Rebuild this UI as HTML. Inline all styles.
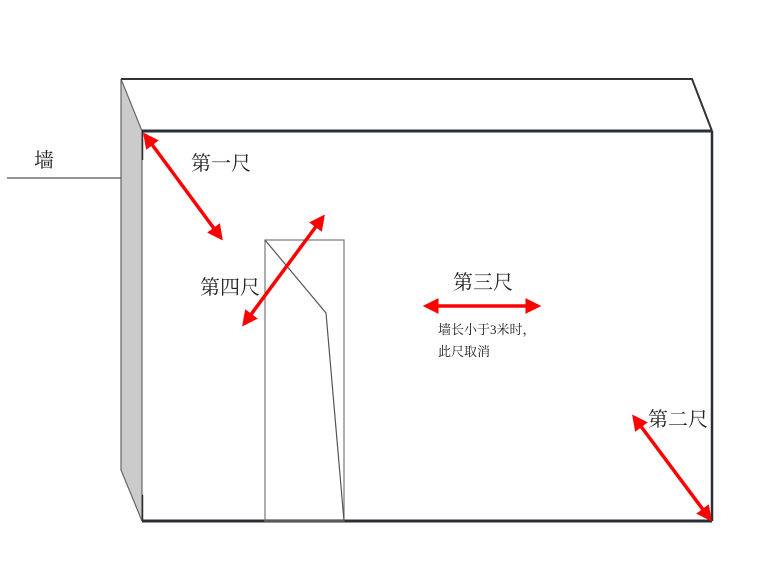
<!DOCTYPE html>
<html><head><meta charset="utf-8"><style>
body{margin:0;background:#fff}
svg text{font-family:"Liberation Serif","Noto Serif CJK SC",serif;fill:#222}
</style></head><body>
<svg width="760" height="570" viewBox="0 0 760 570" xmlns="http://www.w3.org/2000/svg">
<defs>
<marker id="a" viewBox="0 0 10 10" refX="8" refY="5" markerWidth="4.5" markerHeight="4.5" orient="auto-start-reverse">
<path d="M0,0 L10,5 L0,10 Z" fill="#f00"/></marker>
</defs>
<line x1="7" y1="178" x2="121" y2="178" stroke="#555" stroke-width="1.2"/>
<text x="34" y="167" font-size="20">墙</text>
<polygon points="121,79 142,131 142,521 121,470" fill="#cbcbcb" stroke="#666" stroke-width="1.2"/>
<polyline points="121,79 692,79 712,131" fill="none" stroke="#333" stroke-width="2"/>
<line x1="142" y1="131" x2="712" y2="131" stroke="#2a2f36" stroke-width="3"/>
<line x1="712" y1="131" x2="712" y2="521" stroke="#2a2f36" stroke-width="2.5"/>
<line x1="142" y1="521" x2="712" y2="521" stroke="#2a2f36" stroke-width="3"/>
<line x1="142.5" y1="131" x2="142.5" y2="160" stroke="#2a2f36" stroke-width="1.5"/>
<line x1="142.5" y1="495" x2="142.5" y2="521" stroke="#2a2f36" stroke-width="1.5"/>
<rect x="265" y="240" width="79" height="281" fill="none" stroke="#777" stroke-width="1.2"/>
<polyline points="265,240 326,313 344,521" fill="none" stroke="#555" stroke-width="1.2"/>
<g stroke="#f00" stroke-width="3.5" marker-start="url(#a)" marker-end="url(#a)">
<line x1="145" y1="135" x2="221" y2="238"/>
<line x1="323" y1="217" x2="244" y2="324"/>
<line x1="426" y1="306" x2="538" y2="306"/>
<line x1="634" y1="417" x2="710" y2="519"/>
</g>
<text x="191" y="170" font-size="20">第一尺</text>
<text x="200" y="294" font-size="20">第四尺</text>
<text x="453" y="289" font-size="20">第三尺</text>
<text x="648" y="426" font-size="20">第二尺</text>
<text x="438" y="334" font-size="13">墙长小于3米时，</text>
<text x="438" y="356" font-size="13">此尺取消</text>
</svg>
</body></html>
